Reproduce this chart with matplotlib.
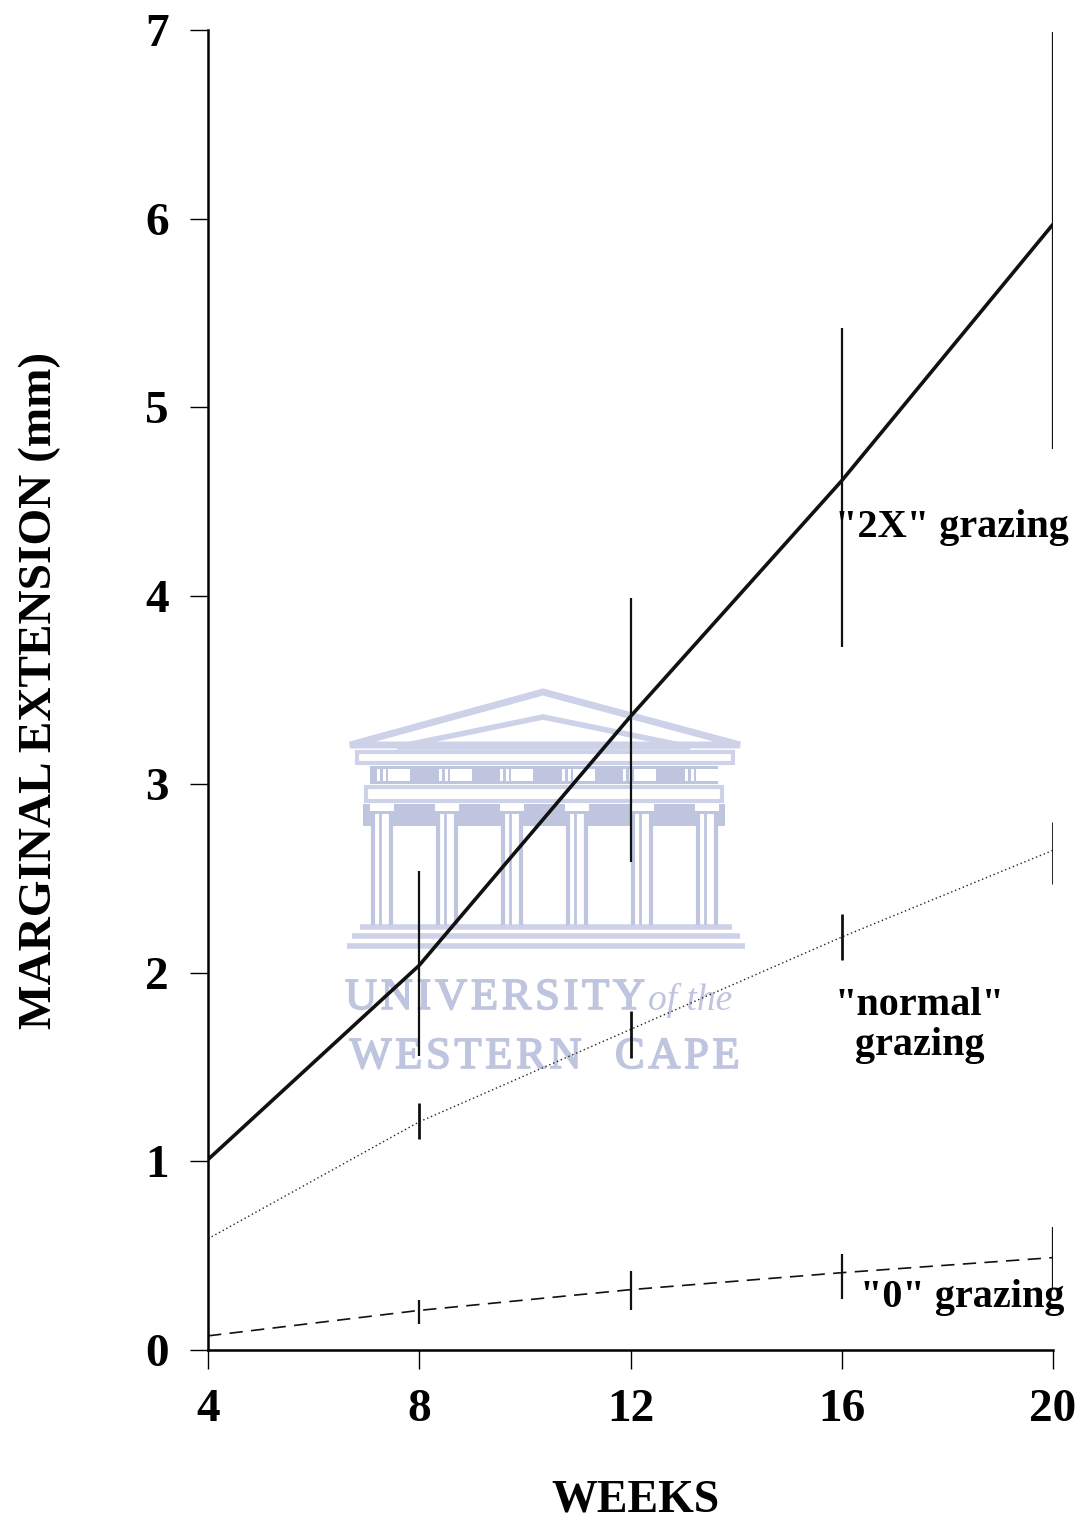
import numpy as np
import matplotlib
matplotlib.use("Agg")
import matplotlib.pyplot as plt
import matplotlib.patheffects as pe
from matplotlib.patches import Rectangle, Polygon

plt.rcParams['font.family'] = ['Liberation Serif', 'DejaVu Serif']

# Sampling weeks and mean marginal extension (mm) for each grazing treatment
weeks = [4, 8, 12, 16, 20]
err_weeks = [8, 12, 16, 20]

double_mean = [1.01, 2.04, 3.36, 4.61, 5.97]
double_low = [1.56, 2.59, 3.73, 4.78]
double_high = [2.54, 3.99, 5.42, 6.99]

normal_mean = [0.59, 1.21, 1.70, 2.19, 2.65]
normal_low = [1.12, 1.55, 2.07, 2.47]
normal_high = [1.31, 1.80, 2.31, 2.80]

zero_mean = [0.075, 0.21, 0.32, 0.41, 0.49]
zero_low = [0.14, 0.21, 0.27, 0.32]
zero_high = [0.265, 0.42, 0.51, 0.65]

x_ticks = [4, 8, 12, 16, 20]
y_ticks = [0, 1, 2, 3, 4, 5, 6, 7]

W, H = 1084, 1521
fig = plt.figure(figsize=(W / 100, H / 100), dpi=100)

# --- faint university watermark drawn behind the plot, in pixel units ---
wm = fig.add_axes([0, 0, 1, 1], zorder=0)
wm.set_xlim(0, W)
wm.set_ylim(H, 0)
wm.axis('off')
wc = '#bfc5df'
wl = '#cdd2e8'
# pediment (double outline)
wm.add_patch(Polygon([[350, 745], [543, 692], [740, 745]], closed=True,
                     fill=False, ec=wl, lw=5, joinstyle='miter'))
wm.add_patch(Polygon([[397, 747], [543, 717], [690, 747]], closed=True,
                     fill=False, ec=wl, lw=4, joinstyle='miter'))
# cornice
wm.add_patch(Rectangle((357, 752), 376, 11, fc='none', ec=wl, lw=3))
# frieze with metopes
wm.add_patch(Rectangle((370, 766), 348, 18, fc=wc, ec='none'))
for cx in np.linspace(392, 700, 6):
    wm.add_patch(Rectangle((cx - 4, 769), 22, 12, fc='white', ec='none'))
    wm.add_patch(Rectangle((cx - 15, 769), 3, 12, fc='white', ec='none'))
    wm.add_patch(Rectangle((cx - 9, 769), 3, 12, fc='white', ec='none'))
# architrave and capital band
wm.add_patch(Rectangle((366, 787), 356, 14, fc='none', ec=wl, lw=3))
wm.add_patch(Rectangle((363, 804), 362, 22, fc=wc, ec='none'))
for cx in [382, 447, 512, 577, 642, 707]:
    wm.add_patch(Rectangle((cx - 12, 804), 24, 7, fc='white', ec='none'))
    wm.add_patch(Rectangle((cx - 10, 814), 20, 110, fc='white', ec='none'))
    wm.plot([cx - 9, cx - 9], [814, 923], color=wc, lw=3, zorder=3)
    wm.plot([cx - 2, cx - 2], [814, 923], color=wc, lw=2, zorder=3)
    wm.plot([cx + 9, cx + 9], [814, 923], color=wc, lw=3, zorder=3)
# steps
for yy, x0, x1 in [(927, 360, 732), (936, 352, 740), (946, 347, 745)]:
    wm.plot([x0, x1], [yy, yy], color=wl, lw=4, solid_capstyle='butt')

# widely tracked lettering: hair spaces between the capitals
HS = '\u200a'
thick = [pe.withStroke(linewidth=1.2, foreground=wc)]
wfam = ['Liberation Serif', 'DejaVu Serif']
wm.text(345, 998, HS.join('UNIVERSITY'), fontsize=32, color=wc, ha='left',
        va='center', family=wfam, path_effects=thick)
wm.text(648, 1000, 'of the', fontsize=27, color=wc, ha='left',
        va='center', style='italic', family=wfam)
wm.text(545, 1057, HS.join('WESTERN') + '   ' + HS.join('CAPE'),
        fontsize=32, color=wc, ha='center', va='center', family=wfam,
        path_effects=thick)

# --- main chart ---
ax = fig.add_axes([208 / W, 1 - 1350 / H, (1053 - 208) / W, (1350 - 30) / H],
                  zorder=1)
ax.patch.set_alpha(0)

ax.plot(weeks, double_mean, color='#111111', lw=2.6, solid_capstyle='butt')
ax.vlines(err_weeks, double_low, double_high, color='#111111', lw=1.6)

ax.plot(weeks, normal_mean, color='#222222', lw=1.0, linestyle=(0, (1, 2)))
ax.vlines(err_weeks, normal_low, normal_high, color='#111111', lw=2.0)

ax.plot(weeks, zero_mean, color='#111111', lw=1.2, linestyle=(0, (8, 5)))
ax.vlines(err_weeks, zero_low, zero_high, color='#111111', lw=1.6)

ax.set_xlim(4, 20)
ax.set_ylim(0, 7)
ax.set_xticks(x_ticks)
ax.set_yticks(y_ticks)
ax.set_xticklabels([str(v) for v in x_ticks])
ax.set_yticklabels([str(v) for v in y_ticks])
for s in ['top', 'right']:
    ax.spines[s].set_visible(False)
ax.spines['left'].set_linewidth(1.8)
ax.spines['bottom'].set_linewidth(1.8)
ax.tick_params(axis='y', direction='out', length=13, width=1.0, pad=15,
               labelsize=34)
ax.tick_params(axis='x', direction='out', length=14, width=1.0, pad=14,
               labelsize=34)
for lab in ax.get_xticklabels() + ax.get_yticklabels():
    lab.set_fontweight('bold')

ax.text(15.87, 4.36, '"2X" grazing', fontsize=29, fontweight='bold',
        ha='left', va='center')
ax.text(17.48, 1.72, '"normal"\ngrazing', fontsize=29, fontweight='bold',
        ha='center', va='center', linespacing=1.1)
ax.text(16.35, 0.28, '"0" grazing', fontsize=29, fontweight='bold',
        ha='left', va='center')

fig.text(40 / W, 1 - 690 / H, 'MARGINAL EXTENSION (mm)', rotation=90,
         fontsize=34, fontweight='bold', ha='center', va='center')
fig.text(635 / W, 1 - 1500 / H, 'WEEKS', fontsize=33, fontweight='bold',
         ha='center', va='center')

fig.savefig('out.png', dpi=100, facecolor='white')
